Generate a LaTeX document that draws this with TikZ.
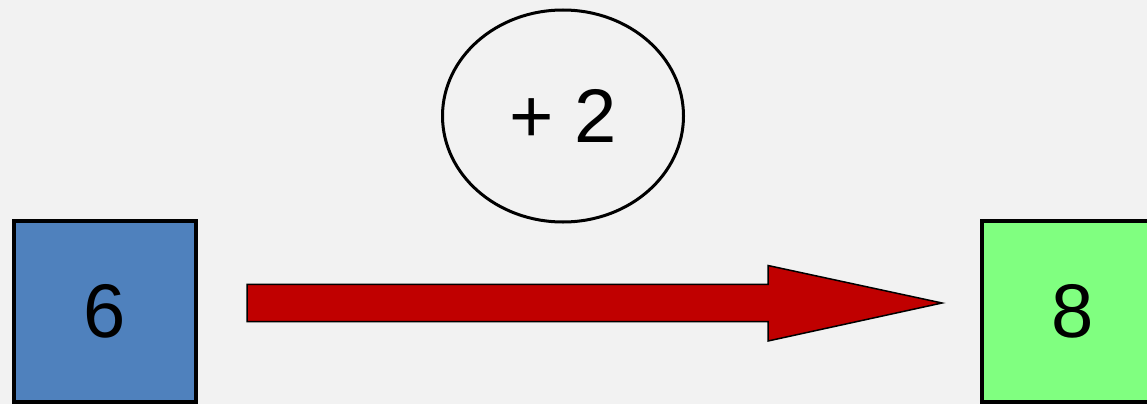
\documentclass[tikz,border=0pt]{standalone}
\usepackage{fontspec}
\setmainfont{Liberation Sans}
\usetikzlibrary{shapes.geometric,calc}
\definecolor{bgc}{HTML}{F2F2F2}
\definecolor{bluec}{HTML}{4F81BD}
\definecolor{greenc}{HTML}{80FF80}
\definecolor{redc}{HTML}{C00000}
\begin{document}
\begin{tikzpicture}[x=1pt,y=-1pt,
  numbox/.style={draw=black,line width=4pt,minimum width=182pt,minimum height=181pt,inner sep=0pt,font=\fontsize{76}{80}\selectfont},
  opell/.style={ellipse,draw=black,line width=3pt,minimum width=241pt,minimum height=212pt,inner sep=0pt,font=\fontsize{76}{80}\selectfont},
  blockarrow/.style={fill=redc,draw=black,line width=1.5pt,line join=miter}]
\useasboundingbox (0,0) rectangle (1147,404);
\fill[bgc] (0,0) rectangle (1147,404);
\clip (0,0) rectangle (1147,404);
\node[numbox,fill=bluec] (six) at (105,311.5) {6};
\node[numbox,fill=greenc] (eight) at (1073,311.5) {8};
\node[opell] (op) at (563,116) {+ 2};
\coordinate (a) at (247,303);
\coordinate (b) at (942,303);
\draw[blockarrow] ($(a)+(0,-18.7)$) -- ($(b)+(-174,-18.7)$) -- ($(b)+(-174,-37.5)$) -- (b)
  -- ($(b)+(-174,38)$) -- ($(b)+(-174,18.7)$) -- ($(a)+(0,18.7)$) -- cycle;
\end{tikzpicture}
\end{document}
